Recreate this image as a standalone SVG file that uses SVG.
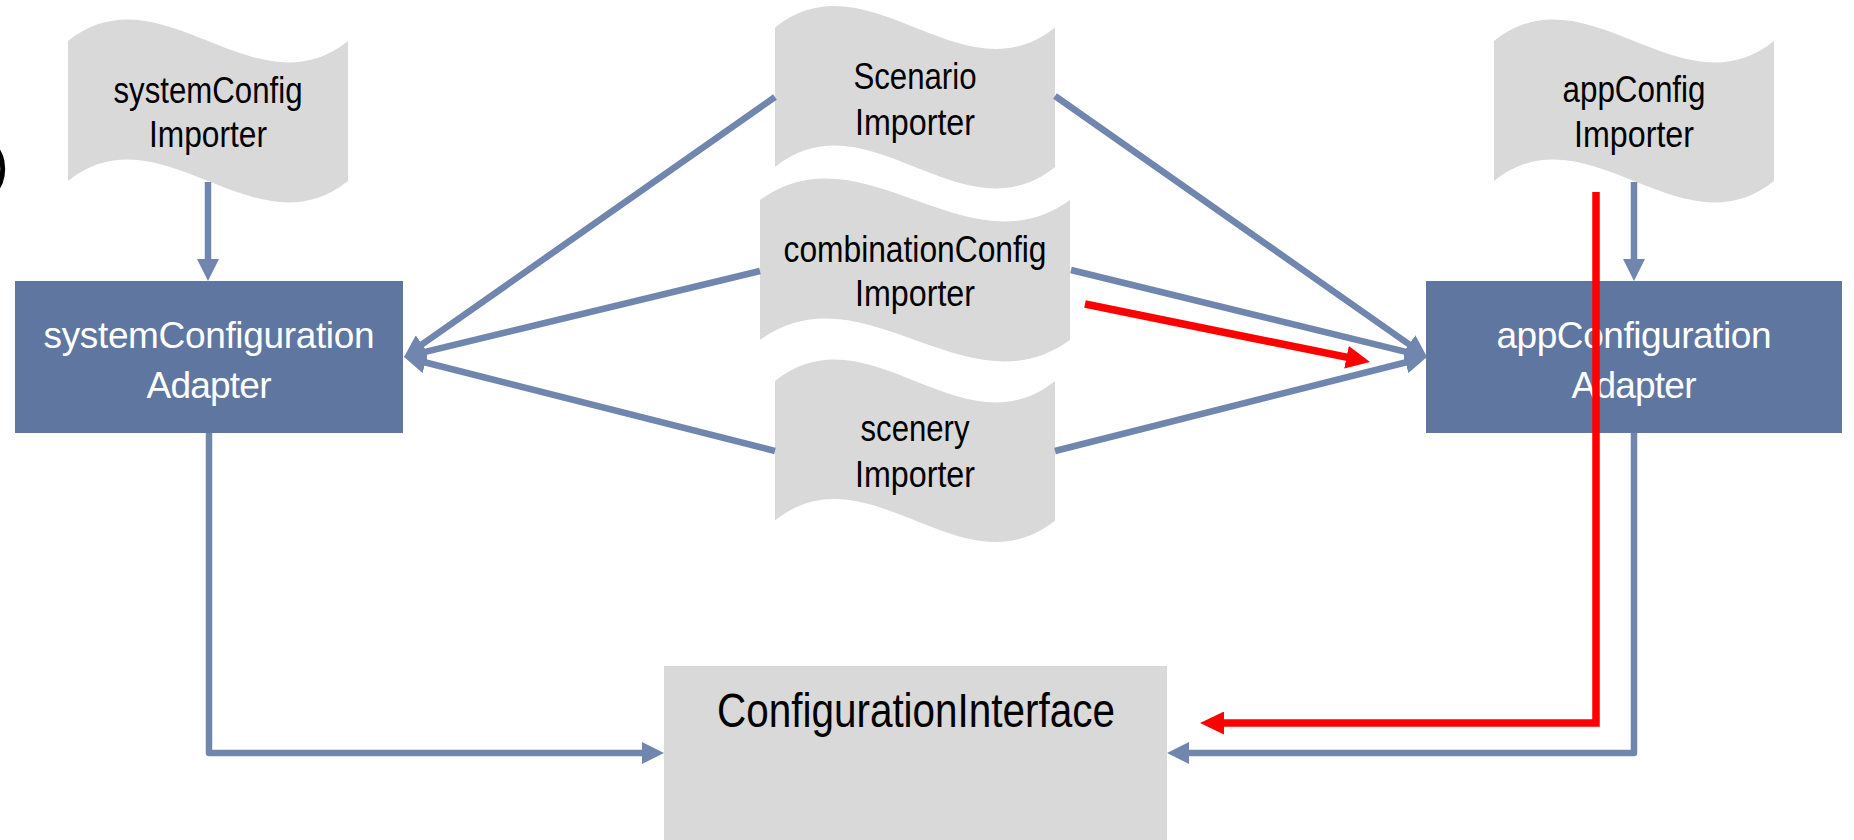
<svg xmlns="http://www.w3.org/2000/svg" width="1854" height="840" viewBox="0 0 1854 840">
  <defs>
    <style>
      .tape { fill: #D9D9D9; }
      .adapter { fill: #5F77A0; }
      .box { fill: #D9D9D9; }
      .lbl { font-family: "Liberation Sans Narrow", "Liberation Sans", Arial, sans-serif; text-anchor: middle; }
      .dark { fill: #000000; }
      .light { fill: #FFFFFF; }
      .conn { stroke: #7186AE; stroke-width: 6.5; fill: none; stroke-linejoin: round; }
      .hl { stroke: #FF0000; stroke-width: 7.5; fill: none; stroke-linejoin: miter; }
    </style>
    <marker id="arrowBlue" markerUnits="userSpaceOnUse" viewBox="0 0 22 22" markerWidth="22" markerHeight="22" refX="14" refY="11" orient="auto">
      <path d="M0,0 L22,11 L0,22 Z" fill="#7186AE"/>
    </marker>
    <marker id="arrowRed" markerUnits="userSpaceOnUse" viewBox="0 0 24 23" markerWidth="24" markerHeight="23" refX="15" refY="11.5" orient="auto">
      <path d="M0,0 L24,11.5 L0,23 Z" fill="#FF0000"/>
    </marker>
  </defs>

  <rect x="0" y="0" width="1854" height="840" fill="#FFFFFF"/>

  <!-- stray bracket at the left margin -->
  <g id="bracket">
    <text x="-10" y="183" font-family="'Liberation Sans', Arial, sans-serif" font-size="56" fill="#000">)</text>
  </g>

  <!-- importers: punched-tape shapes with one sine period on top and bottom -->
  <g id="systemConfigImporter">
    <path class="tape" d="M68,41 C161.3,-33.4 254.7,115.4 348,41 L348,181 C254.7,255.4 161.3,106.6 68,181 Z"/>
    <text class="lbl dark" x="208" y="103" font-size="37" textLength="189" lengthAdjust="spacingAndGlyphs">systemConfig</text>
    <text class="lbl dark" x="208" y="147" font-size="37" textLength="118" lengthAdjust="spacingAndGlyphs">Importer</text>
  </g>

  <g id="scenarioImporter">
    <path class="tape" d="M775,27.5 C868.3,-46.9 961.7,101.9 1055,27.5 L1055,167 C961.7,241.4 868.3,92.6 775,167 Z"/>
    <text class="lbl dark" x="915" y="89" font-size="37" textLength="123" lengthAdjust="spacingAndGlyphs">Scenario</text>
    <text class="lbl dark" x="915" y="135" font-size="37" textLength="120" lengthAdjust="spacingAndGlyphs">Importer</text>
  </g>

  <g id="combinationConfigImporter">
    <path class="tape" d="M760,200 C863.3,125.6 966.7,274.4 1070,200 L1070,340 C966.7,414.4 863.3,265.6 760,340 Z"/>
    <text class="lbl dark" x="915" y="262" font-size="37" textLength="263" lengthAdjust="spacingAndGlyphs">combinationConfig</text>
    <text class="lbl dark" x="915" y="306" font-size="37" textLength="120" lengthAdjust="spacingAndGlyphs">Importer</text>
  </g>

  <g id="sceneryImporter">
    <path class="tape" d="M775,381 C868.3,306.6 961.7,455.4 1055,381 L1055,520.5 C961.7,594.9 868.3,446.1 775,520.5 Z"/>
    <text class="lbl dark" x="915" y="441" font-size="37" textLength="109" lengthAdjust="spacingAndGlyphs">scenery</text>
    <text class="lbl dark" x="915" y="487" font-size="37" textLength="120" lengthAdjust="spacingAndGlyphs">Importer</text>
  </g>

  <g id="appConfigImporter">
    <path class="tape" d="M1494,41 C1587.3,-33.4 1680.7,115.4 1774,41 L1774,181 C1680.7,255.4 1587.3,106.6 1494,181 Z"/>
    <text class="lbl dark" x="1634" y="102" font-size="37" textLength="143" lengthAdjust="spacingAndGlyphs">appConfig</text>
    <text class="lbl dark" x="1634" y="147" font-size="37" textLength="120" lengthAdjust="spacingAndGlyphs">Importer</text>
  </g>

  <g id="systemConfigurationAdapter">
    <rect class="adapter" x="15" y="281" width="388" height="152"/>
    <text class="lbl light" x="209" y="348" font-size="37" textLength="331" lengthAdjust="spacing">systemConfiguration</text>
    <text class="lbl light" x="209" y="398" font-size="37" textLength="125" lengthAdjust="spacing">Adapter</text>
  </g>

  <g id="appConfigurationAdapter">
    <rect class="adapter" x="1426" y="281" width="416" height="152"/>
    <text class="lbl light" x="1634" y="348" font-size="37" textLength="275" lengthAdjust="spacing">appConfiguration</text>
    <text class="lbl light" x="1634" y="398" font-size="37" textLength="125" lengthAdjust="spacing">Adapter</text>
  </g>

  <g id="configurationInterface">
    <rect class="box" x="664" y="666" width="503" height="180"/>
    <text class="lbl dark" x="916" y="727" font-size="48" textLength="398" lengthAdjust="spacingAndGlyphs">ConfigurationInterface</text>
  </g>

  <g id="connectors">
    <path class="conn" marker-end="url(#arrowBlue)" d="M208,182 L208,273"/>
    <path class="conn" marker-end="url(#arrowBlue)" d="M1634,182 L1634,273"/>
    <path class="conn" marker-end="url(#arrowBlue)" d="M775,97 L410.6,352.4"/>
    <path class="conn" marker-end="url(#arrowBlue)" d="M760,271 L411.8,355.1"/>
    <path class="conn" marker-end="url(#arrowBlue)" d="M775,451 L411.8,359"/>
    <path class="conn" marker-end="url(#arrowBlue)" d="M1055,96 L1420.5,352.4"/>
    <path class="conn" marker-end="url(#arrowBlue)" d="M1071,270 L1419.2,355.1"/>
    <path class="conn" marker-end="url(#arrowBlue)" d="M1055,451 L1419.2,359"/>
    <path class="conn" marker-end="url(#arrowBlue)" d="M209,433 L209,753 L656,753"/>
    <path class="conn" marker-end="url(#arrowBlue)" d="M1634,433 L1634,753 L1175,753"/>
    <path class="hl" marker-end="url(#arrowRed)" d="M1085,304 L1361.2,360.2"/>
    <path class="hl" marker-end="url(#arrowRed)" d="M1596,192 L1596,723 L1209,723"/>
  </g>
</svg>
